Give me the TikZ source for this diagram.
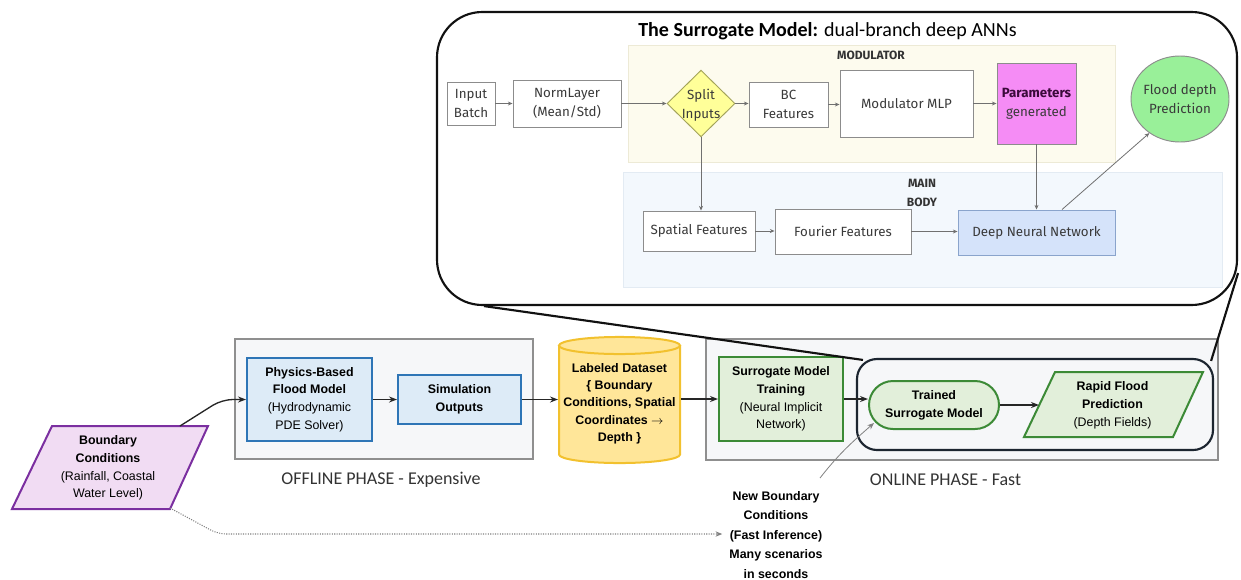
\documentclass[tikz,border=0pt]{standalone}
\usepackage{fontspec}
\setmainfont{Liberation Sans}
\newfontfamily\calib{Carlito}
\newfontfamily\fira{Fira Sans}
\usetikzlibrary{arrows.meta,shapes.geometric,fit,calc}
\definecolor{calloutline}{HTML}{111111}
\definecolor{modbg}{HTML}{FDFBEE}
\definecolor{modline}{HTML}{EDEAD6}
\definecolor{mainbg}{HTML}{F3F8FD}
\definecolor{mainline}{HTML}{E3EBF3}
\definecolor{sline}{HTML}{8C8C8C}
\definecolor{stext}{HTML}{3A3A3A}
\definecolor{sarrc}{HTML}{707070}
\definecolor{splitfill}{HTML}{FFFF99}
\definecolor{splitline}{HTML}{A3A35A}
\definecolor{paramfill}{HTML}{F58CF5}
\definecolor{paramtext}{HTML}{3A0A3A}
\definecolor{circfill}{HTML}{99F099}
\definecolor{dnnfill}{HTML}{D5E3FA}
\definecolor{dnnline}{HTML}{8AA4CC}
\definecolor{phasebg}{HTML}{F6F7F9}
\definecolor{phaseline}{HTML}{8F8F8F}
\definecolor{physfill}{HTML}{DDEBF7}
\definecolor{physline}{HTML}{2E75B6}
\definecolor{trainfill}{HTML}{E2EFDA}
\definecolor{trainline}{HTML}{3C8A36}
\definecolor{dsfill}{HTML}{FFE699}
\definecolor{dsline}{HTML}{F2C12E}
\definecolor{bcfill}{HTML}{F1DCF3}
\definecolor{bcline}{HTML}{7B2FA0}
\definecolor{zbline}{HTML}{1C2530}
\definecolor{larrc}{HTML}{262626}
\definecolor{ptext}{HTML}{333333}
\tikzset{
  sz/.style 2 args={minimum width=#1*0.75pt, minimum height=#2*0.75pt},
  sbox/.style={draw=sline, fill=white, line width=0.7pt, inner sep=0pt, align=center, text=stext, font=\fira\fontsize{10}{14}\selectfont},
  sarr/.style={draw=sarrc, line width=0.6pt, -{Stealth[length=3.5pt,width=3pt]}},
  lbox/.style={line width=1.5pt, inner sep=0pt, align=center, font=\fontsize{9.3}{13.3}\selectfont},
  larr/.style={draw=larrc, line width=1pt, -{Stealth[length=6pt,width=4.5pt]}},
  phasebox/.style={draw=phaseline, fill=phasebg, line width=1.2pt, inner sep=0pt},
  phaselabel/.style={font=\calib\fontsize{13.5}{16}\selectfont, text=ptext},
  slabel/.style={align=center, text=stext, font=\fira\fontsize{10}{14}\selectfont},
}
\begin{document}
\begin{tikzpicture}[x=0.75pt,y=0.75pt]
\useasboundingbox (0,0) rectangle (1241,-579);

% ---------- lower part: phase boxes ----------
\node[phasebox, fit={(235,-339)(533,-459)}] (off) {};
\node[phasebox, fit={(706,-339)(1218,-460)}] (on) {};
\node[phaselabel] (offlab) at (381,-480) {OFFLINE PHASE - Expensive};
\node[phaselabel] (onlab) at (945.5,-480) {ONLINE PHASE - Fast};

% zoom highlight box
\node[draw=zbline, fill=phasebg, line width=1.6pt, rounded corners=15pt, fit={(857,-359)(1213,-450)}, inner sep=0pt] (zb) {};

% boundary conditions parallelogram
\filldraw[fill=bcfill, draw=bcline, line width=1.5pt] (52,-426) -- (208,-426) -- (170,-509) -- (12,-509) -- cycle;
\node[lbox] (bc) at (108,-468) {\textbf{Boundary}\\\textbf{Conditions}\\(Rainfall, Coastal\\Water Level)};
\coordinate (bcA) at (180,-426);
\coordinate (bcB) at (170,-508);

\node[lbox, draw=physline, fill=physfill, sz={125}{83}] (phys) at (309.5,-399.5) {\textbf{Physics-Based}\\\textbf{Flood Model}\\(Hydrodynamic\\PDE Solver)};
\node[lbox, draw=physline, fill=physfill, sz={123}{49}] (sim) at (459.5,-399.5) {\textbf{Simulation}\\\textbf{Outputs}};

% cylinder
\fill[dsfill] (559,-345.5) -- (559,-454.5) arc[start angle=180,end angle=360,x radius=45.4pt,y radius=6.4pt] -- (680,-345.5) arc[start angle=0,end angle=180,x radius=45.4pt,y radius=6.4pt] -- cycle;
\draw[dsline, line width=1.5pt] (559,-345.5) -- (559,-454.5) arc[start angle=180,end angle=360,x radius=45.4pt,y radius=6.4pt] -- (680,-345.5);
\draw[dsline, line width=1.5pt] (619.5,-345.5) ellipse[x radius=45.4pt, y radius=6.4pt];
\node[lbox, sz={121}{126}, font=\bfseries\fontsize{9.3}{13}\selectfont] (ds) at (619.5,-403.5) {Labeled Dataset\\\{ Boundary\\Conditions, Spatial\\Coordinates \(\rightarrow\)\\Depth \}};

\node[lbox, draw=trainline, fill=trainfill, sz={124}{84}] (train) at (781,-399) {\textbf{Surrogate Model}\\\textbf{Training}\\(Neural Implicit\\Network)};
\node[lbox, draw=trainline, fill=trainfill, rounded corners=18pt, sz={130}{48}] (tsm) at (934,-405) {\textbf{Trained}\\\textbf{Surrogate Model}};

% rapid flood prediction parallelogram
\filldraw[fill=trainfill, draw=trainline, line width=1.5pt] (1055,-372) -- (1203,-372) -- (1173,-437) -- (1024,-437) -- cycle;
\node[lbox] (rfp) at (1112.5,-405.5) {\textbf{Rapid Flood}\\\textbf{Prediction}\\(Depth Fields)};
\coordinate (rfpin) at (1039,-405);

\node[align=center, font=\bfseries\fontsize{9.3}{14.6}\selectfont, inner sep=3pt] (nb) at (776,-535) {New Boundary\\Conditions\\(Fast Inference)\\Many scenarios\\in seconds};
\coordinate (nbtop) at (820,-478);
\coordinate (tsmin) at (874,-423);

% lower connectors
\draw[larr, rounded corners=8pt] (bcA) -- (222,-399.5) -- (phys.west);
\draw[larr] (phys.east) -- (sim.west);
\draw[larr] (sim.east) -- (ds.west |- sim.east);
\draw[larr, line width=1.5pt] (ds.east |- train.west) -- (train.west);
\draw[larr] (train.east) -- (train.east -| tsm.west);
\draw[larr] (tsm.east) -- (rfpin);
\draw[draw=gray, line width=0.8pt, densely dotted, rounded corners=6pt, -{Stealth[length=5pt,width=4pt]}] (bcB) -- (218,-534) -- ($(nb.west)+(-3,1)$);
\draw[draw=gray, line width=0.6pt, -{Stealth[length=5pt,width=4pt]}] (nbtop) to[out=52,in=221] (tsmin);

% ---------- callout: surrogate model ----------
\node[draw=calloutline, fill=white, line width=1.6pt, rounded corners=34pt, fit={(437,-12)(1237,-305)}, inner sep=0pt] (callout) {};
\draw[calloutline, line width=1.6pt] ($(callout.south west)+(48,0)$) -- ($(zb.north west)+(7,-2)$);
\draw[calloutline, line width=1.6pt] ($(callout.south east)+(0,33)$) -- ($(zb.north east)+(-3,-3)$);

\node[font=\calib\fontsize{15}{18}\selectfont] (title) at (827.5,-31) {\textbf{The Surrogate Model:} dual-branch deep ANNs};

\node[fill=modbg, draw=modline, line width=0.6pt, fit={(628,-45)(1115,-162)}, inner sep=0pt] (modbg) {};
\node[fill=mainbg, draw=mainline, line width=0.6pt, fit={(623,-172)(1222,-287)}, inner sep=0pt] (mainbg) {};
\node[font=\fira\bfseries\fontsize{9}{11}\selectfont, text=ptext] (modlab) at (871,-55) {MODULATOR};
\node[align=center, font=\fira\bfseries\fontsize{9}{14.2}\selectfont, text=ptext] (mainlab) at (922,-192.5) {MAIN\\BODY};

\node[sbox, sz={48}{43}] (ib) at (471,-103.5) {Input\\Batch};
\node[sbox, sz={108}{47}] (nl) at (567,-103.5) {NormLayer\\(Mean/Std)};
\node[diamond, draw=splitline, fill=splitfill, line width=0.7pt, minimum width=51pt, minimum height=50pt, inner sep=0pt,
      label={[slabel, yshift=-1.5pt]center:{Split\\Inputs}}] (split) at (701,-103.5) {};
\node[sbox, sz={79}{45}] (bcf) at (788.5,-104.5) {BC\\Features};
\node[sbox, sz={133}{67}] (mlp) at (906.5,-103.5) {Modulator MLP};
\node[sbox, fill=paramfill, sz={79}{81}] (par) at (1036.5,-103.5) {\textbf{\textcolor{paramtext}{Parameters}}\\generated};
\node[ellipse, draw=sline, fill=circfill, line width=0.7pt, minimum width=73.5pt, minimum height=64.5pt, inner sep=0pt,
      label={[slabel]center:{Flood depth\\Prediction}}] (circ) at (1180,-99) {};
\node[sbox, sz={112}{40}] (sf) at (699,-231) {Spatial Features};
\node[sbox, sz={136}{45}] (ff) at (843,-231.5) {Fourier Features};
\node[sbox, draw=dnnline, fill=dnnfill, sz={157}{45}] (dnn) at (1036.5,-232.5) {Deep Neural Network};

\draw[sarr] (ib.east) -- (nl.west);
\draw[sarr] (nl.east) -- (split.west);
\draw[sarr] (split.east) -- (split.east -| bcf.west);
\draw[sarr] (bcf.east) -- (bcf.east -| mlp.west);
\draw[sarr] (mlp.east) -- (par.west);
\draw[sarr] (split.south) -- (split.south |- sf.north);
\draw[sarr] (sf.east) -- (sf.east -| ff.west);
\draw[sarr] (ff.east) -- (ff.east -| dnn.west);
\draw[sarr] (par.south) -- (dnn.north);
\draw[sarr] ($(dnn.north)+(25.5,0)$) -- (circ.-132);
\end{tikzpicture}
\end{document}
